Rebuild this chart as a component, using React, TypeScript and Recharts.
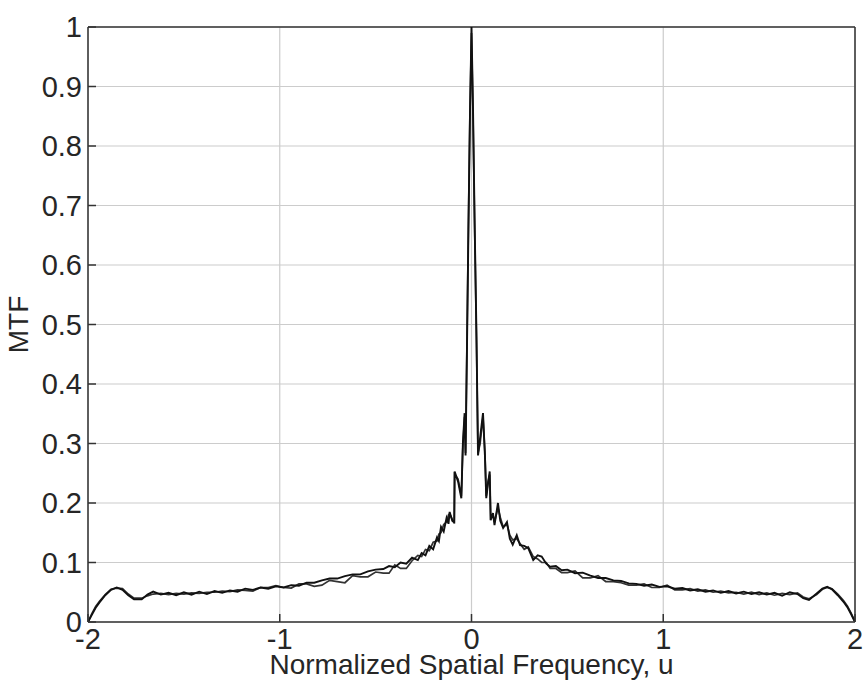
import { LineChart, Line, XAxis, YAxis, CartesianGrid, ReferenceLine } from "recharts"

// normalized spatial frequency u
const freq = [
  -2.0, -1.98, -1.96, -1.94, -1.91, -1.88, -1.85, -1.82, -1.79, -1.76, -1.72, -1.69, -1.66, -1.62, -1.58,
  -1.54, -1.5, -1.46, -1.42, -1.38, -1.34, -1.3, -1.26, -1.22, -1.18, -1.14, -1.1, -1.06, -1.02, -0.98,
  -0.94, -0.9, -0.86, -0.82, -0.78, -0.74, -0.7, -0.66, -0.62, -0.58, -0.54, -0.5, -0.46, -0.43, -0.4,
  -0.37, -0.34, -0.31, -0.28, -0.26, -0.24, -0.22, -0.2, -0.18, -0.17, -0.159, -0.145, -0.13, -0.12, -0.114,
  -0.1, -0.09, -0.088, -0.07, -0.053, -0.045, -0.036, -0.031, -0.024, -0.016, -0.008, 0,
  0.008, 0.016, 0.026, 0.034, 0.045, 0.06, 0.07, 0.077, 0.086, 0.095, 0.1, 0.112, 0.12, 0.138, 0.15,
  0.165, 0.185, 0.2, 0.215, 0.236, 0.253, 0.275, 0.296, 0.322, 0.345, 0.366, 0.39, 0.41, 0.44, 0.47,
  0.5, 0.54, 0.58, 0.62, 0.66, 0.7, 0.74, 0.78, 0.82, 0.86, 0.9, 0.94, 0.98, 1.02, 1.06, 1.1, 1.14,
  1.18, 1.22, 1.26, 1.3, 1.34, 1.38, 1.42, 1.46, 1.5, 1.54, 1.58, 1.62, 1.66, 1.7, 1.73, 1.76, 1.8,
  1.83, 1.855, 1.88, 1.91, 1.94, 1.96, 1.98, 2.0,
]

// first MTF trace
const mtfA = [
  0.0, 0.012, 0.024, 0.033, 0.045, 0.054, 0.058, 0.054, 0.045, 0.038, 0.038, 0.046, 0.051, 0.046, 0.049,
  0.045, 0.05, 0.046, 0.051, 0.047, 0.052, 0.049, 0.053, 0.051, 0.056, 0.054, 0.058, 0.056, 0.06, 0.058,
  0.062, 0.061, 0.066, 0.066, 0.07, 0.073, 0.073, 0.077, 0.08, 0.08, 0.085, 0.088, 0.089, 0.094, 0.092,
  0.1, 0.098, 0.108, 0.104, 0.116, 0.112, 0.128, 0.122, 0.142, 0.136, 0.16, 0.152, 0.175, 0.165, 0.185,
  0.17, 0.168, 0.253, 0.236, 0.208, 0.3, 0.351, 0.28, 0.45, 0.66, 0.85, 1.0,
  0.86, 0.68, 0.48, 0.28, 0.31, 0.351, 0.28, 0.208, 0.232, 0.253, 0.171, 0.183, 0.163, 0.2, 0.17,
  0.158, 0.168, 0.14, 0.13, 0.146, 0.129, 0.128, 0.124, 0.104, 0.112, 0.11, 0.098, 0.093, 0.094, 0.087,
  0.088, 0.082, 0.083, 0.078, 0.074, 0.074, 0.07, 0.069, 0.065, 0.064, 0.061, 0.063, 0.059, 0.06, 0.056, 0.057, 0.053,
  0.055, 0.051, 0.053, 0.049, 0.052, 0.048, 0.051, 0.047, 0.05, 0.046, 0.049, 0.044, 0.05, 0.047, 0.04, 0.037, 0.048,
  0.056, 0.059, 0.055, 0.045, 0.034, 0.025, 0.013, 0.0,
]

// second MTF trace
const mtfB = [
  0.0, 0.014, 0.026, 0.035, 0.046, 0.055, 0.057, 0.056, 0.047, 0.04, 0.04, 0.044, 0.047, 0.048, 0.046,
  0.048, 0.047, 0.049, 0.048, 0.05, 0.05, 0.052, 0.051, 0.054, 0.053, 0.052, 0.058, 0.058, 0.061, 0.058,
  0.057, 0.064, 0.064, 0.06, 0.062, 0.07, 0.068, 0.066, 0.078, 0.076, 0.076, 0.084, 0.082, 0.082, 0.096,
  0.09, 0.09, 0.103, 0.112, 0.11, 0.122, 0.12, 0.134, 0.136, 0.148, 0.15, 0.164, 0.168, 0.18, 0.182,
  0.172, 0.166, 0.248, 0.24, 0.212, 0.296, 0.345, 0.284, 0.46, 0.67, 0.86, 0.99,
  0.85, 0.67, 0.47, 0.284, 0.3, 0.345, 0.285, 0.212, 0.236, 0.248, 0.175, 0.18, 0.168, 0.192, 0.176,
  0.16, 0.164, 0.146, 0.138, 0.14, 0.132, 0.122, 0.126, 0.11, 0.106, 0.1, 0.1, 0.09, 0.09, 0.083,
  0.083, 0.086, 0.074, 0.074, 0.078, 0.068, 0.068, 0.066, 0.062, 0.062, 0.064, 0.058, 0.058, 0.062, 0.054, 0.054, 0.056,
  0.052, 0.054, 0.05, 0.052, 0.049, 0.05, 0.047, 0.05, 0.046, 0.049, 0.045, 0.048, 0.046, 0.049, 0.042, 0.039, 0.046,
  0.055, 0.058, 0.056, 0.047, 0.036, 0.027, 0.015, 0.0,
]

const xTicks = [-2, -1, 0, 1, 2]
const yTicks = [0, 0.1, 0.2, 0.3, 0.4, 0.5, 0.6, 0.7, 0.8, 0.9, 1]

const data = freq.map((u, i) => ({ u, a: mtfA[i], b: mtfB[i] }))

const font = "'Liberation Sans', Arial, sans-serif"
const textColor = "#262626"
const axisColor = "#333"
const gap = 6
const inner = 8

// ticks drawn inward like MATLAB axes
const BottomTick = (p: any) => (
  <g>
    <line x1={p.x} x2={p.x} y1={p.y - gap} y2={p.y - gap - inner} stroke={axisColor} strokeWidth={1.5} />
    <text x={p.x} y={p.y} dy="0.71em" textAnchor="middle" fill={textColor} fontSize={29} fontFamily={font}>
      {p.payload.value}
    </text>
  </g>
)

const LeftTick = (p: any) => (
  <g>
    <line x1={p.x + gap} x2={p.x + gap + inner} y1={p.y} y2={p.y} stroke={axisColor} strokeWidth={1.5} />
    <text x={p.x} y={p.y} dy="0.355em" textAnchor="end" fill={textColor} fontSize={29} fontFamily={font}>
      {String(p.payload.value)}
    </text>
  </g>
)

const TopTick = (p: any) => (
  <line x1={p.x} x2={p.x} y1={p.y} y2={p.y + inner} stroke={axisColor} strokeWidth={1.5} />
)

const RightTick = (p: any) => (
  <line x1={p.x} x2={p.x - inner} y1={p.y} y2={p.y} stroke={axisColor} strokeWidth={1.5} />
)

export default function App() {
  return (
    <div style={{ position: "absolute", left: 0, top: 0, width: 866, height: 682, background: "#fff", fontFamily: font }}>
      <LineChart width={866} height={682} data={data} margin={{ top: 27, right: 11, bottom: 0, left: 0 }}>
        <CartesianGrid stroke="#cccccc" strokeWidth={1.2} horizontalValues={yTicks} verticalValues={xTicks} />
        <XAxis
          dataKey="u"
          type="number"
          domain={[-2, 2]}
          ticks={xTicks}
          height={60}
          allowDataOverflow
          stroke={axisColor}
          strokeWidth={1.5}
          tickLine={false}
          tickSize={0}
          tickMargin={gap}
          tick={BottomTick}
          label={{ value: "Normalized Spatial Frequency, u", position: "insideBottom", offset: 8, fill: textColor, fontSize: 28, fontFamily: font }}
        />
        <XAxis
          xAxisId="top"
          dataKey="u"
          type="number"
          orientation="top"
          domain={[-2, 2]}
          ticks={xTicks}
          height={0}
          stroke={axisColor}
          strokeWidth={1.5}
          tickLine={false}
          tickSize={0}
          tickMargin={0}
          tick={TopTick}
        />
        <YAxis
          type="number"
          domain={[0, 1]}
          ticks={yTicks}
          width={88}
          allowDataOverflow
          stroke={axisColor}
          strokeWidth={1.5}
          tickLine={false}
          tickSize={0}
          tickMargin={gap}
          tick={LeftTick}
          label={{ value: "MTF", angle: -90, position: "insideLeft", offset: 18, fill: textColor, fontSize: 28, fontFamily: font, style: { textAnchor: "middle" } }}
        />
        <YAxis
          yAxisId="right"
          type="number"
          orientation="right"
          domain={[0, 1]}
          ticks={yTicks}
          width={0}
          stroke={axisColor}
          strokeWidth={1.5}
          tickLine={false}
          tickSize={0}
          tickMargin={0}
          tick={RightTick}
        />
        <ReferenceLine y={1} stroke={axisColor} strokeWidth={1.5} />
        <ReferenceLine x={2} stroke={axisColor} strokeWidth={1.5} />
        <Line type="linear" dataKey="b" stroke="#333" strokeWidth={1.7} dot={false} isAnimationActive={false} />
        <Line type="linear" dataKey="a" stroke="#111" strokeWidth={1.9} dot={false} isAnimationActive={false} />
      </LineChart>
    </div>
  )
}
